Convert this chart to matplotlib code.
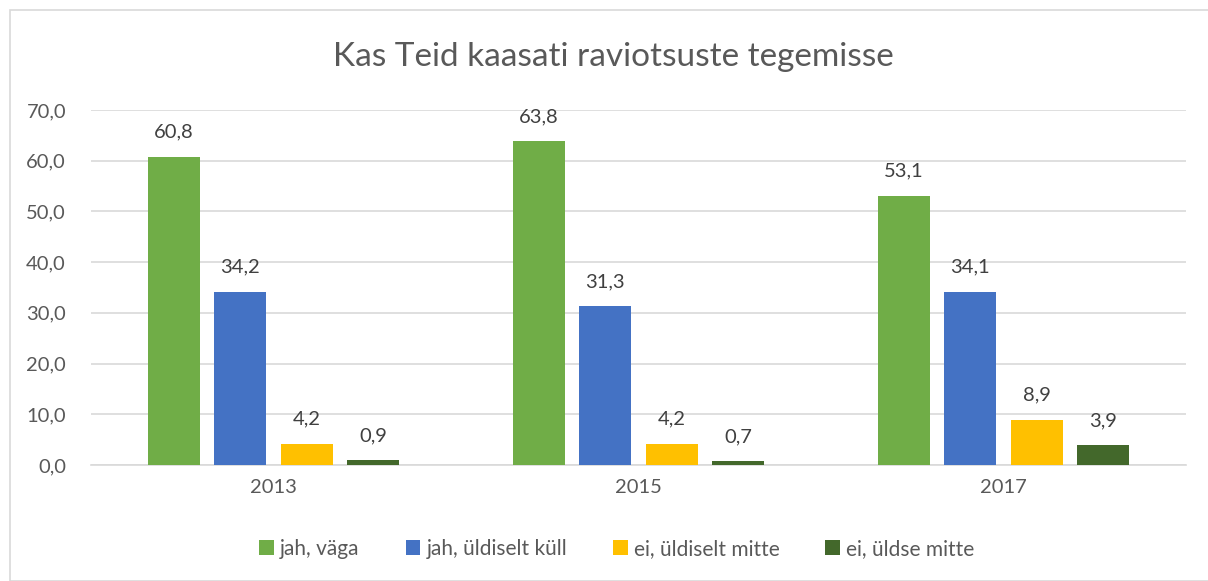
import matplotlib
matplotlib.use("Agg")
import matplotlib.pyplot as plt
from matplotlib.patches import Rectangle
import numpy as np

years = ["2013", "2015", "2017"]
series_names = ["jah, väga", "jah, üldiselt küll", "ei, üldiselt mitte", "ei, üldse mitte"]
jah_vaga = [60.8, 63.8, 53.1]
jah_yldiselt = [34.2, 31.3, 34.1]
ei_yldiselt = [4.2, 4.2, 8.9]
ei_yldse = [0.9, 0.7, 3.9]
colors = ["#70AD47", "#4472C4", "#FFC000", "#43682B"]

plt.rcParams['font.family'] = ['Lato', 'DejaVu Sans']

fig = plt.figure(figsize=(12.08, 5.81), dpi=100)
fig.patches.append(Rectangle((10/1208, 0.0), 1.2, 1 - 10/581, transform=fig.transFigure,
                             fill=False, edgecolor="#D9D9D9", linewidth=1.2))
ax = fig.add_axes([91/1208, 1 - 465/581, (1186-91)/1208, (465-110)/581])

x = np.arange(len(years))
step = 0.182
width = 0.1425
data = [jah_vaga, jah_yldiselt, ei_yldiselt, ei_yldse]
for i, (vals, name, c) in enumerate(zip(data, series_names, colors)):
    pos = x + (i - 1.5) * step
    bars = ax.bar(pos, vals, width=width, color=c, label=name, zorder=3)
    for p, v in zip(pos, vals):
        ax.text(p, v + 3.2, f"{v:.1f}".replace(".", ","), ha="center", va="bottom",
                fontsize=14.5, color="#404040")

ax.set_xlim(-0.5, 2.5)
ax.set_ylim(0, 70)
ax.set_yticks(np.arange(0, 71, 10))
ax.set_yticklabels([f"{v:.1f}".replace(".", ",") for v in np.arange(0, 71, 10)])
ax.set_xticks(x)
ax.set_xticklabels(years)
ax.tick_params(axis="both", length=0, labelsize=14.5, labelcolor="#595959")
ax.tick_params(axis="y", pad=18)
ax.tick_params(axis="x", pad=10)
ax.grid(axis="y", color="#D9D9D9", linewidth=1.2, zorder=0)
for s in ["top", "right", "left"]:
    ax.spines[s].set_visible(False)
ax.spines["bottom"].set_color("#D9D9D9")
ax.spines["bottom"].set_linewidth(1.2)

fig.text(613/1208, 1 - 57/581, "Kas Teid kaasati raviotsuste tegemisse", ha="center", va="center",
         fontsize=24, color="#595959")

leg = fig.legend(loc="center", bbox_to_anchor=(617/1208, 1 - 549/581), ncol=4, frameon=False,
                 fontsize=15, handlelength=0.7, handleheight=0.7, handletextpad=0.3,
                 columnspacing=2.2, labelcolor="#595959")

fig.savefig("out.png", dpi=100)
